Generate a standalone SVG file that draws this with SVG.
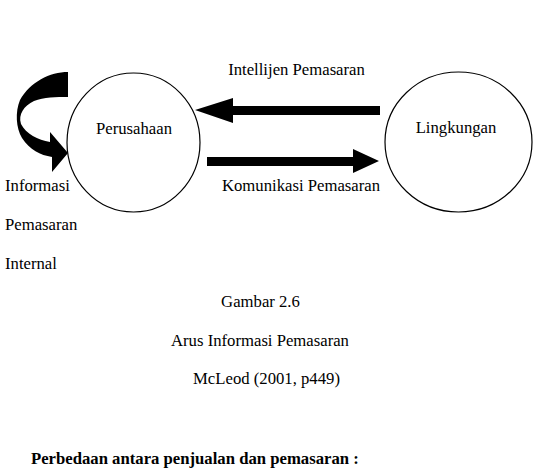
<svg xmlns="http://www.w3.org/2000/svg" width="533" height="468" viewBox="0 0 533 468">
<style>
.t{font-family:"Liberation Serif","Times New Roman",serif;font-size:16.7px;fill:#000}
.b{font-weight:bold}
.node{fill:#fff;stroke:#000;stroke-width:1.2}
.arr{fill:#000;stroke:none}
</style>
<rect width="533" height="468" fill="#fff"/>
<g id="connectors">
<path class="arr" d="M68 72 C50 72 30 82 20 100 C15 112 16 128 22 138 C30 150 40 155 52 157 L52 172 L68 153 L50 132 L50 142 C38 140 26 134 21 124 C18 114 24 106 34 101 C44 97 56 97 68 97 Z"/>
<polygon class="arr" points="380,106 233,106 233,98 195,110 233,123 233,115 380,115"/>
<polygon class="arr" points="207,157 353,157 353,149 379,161 353,173 353,166 207,166"/>
</g>
<g id="perusahaan">
<ellipse class="node" cx="133.5" cy="142.5" rx="66.5" ry="69.5"/>
<text class="t" x="134" y="134" text-anchor="middle">Perusahaan</text>
</g>
<g id="lingkungan">
<ellipse class="node" cx="458.5" cy="142" rx="73.5" ry="70"/>
<text class="t" x="456" y="133" text-anchor="middle">Lingkungan</text>
</g>
<g id="labels">
<text class="t" x="296.5" y="75" text-anchor="middle">Intellijen Pemasaran</text>
<text class="t" x="301" y="191" text-anchor="middle">Komunikasi Pemasaran</text>
<text class="t" x="5" y="191">Informasi</text>
<text class="t" x="5" y="230">Pemasaran</text>
<text class="t" x="5" y="269">Internal</text>
<text class="t" x="260.5" y="307" text-anchor="middle">Gambar 2.6</text>
<text class="t" x="260" y="346" text-anchor="middle">Arus Informasi Pemasaran</text>
<text class="t" x="266.5" y="384" text-anchor="middle">McLeod (2001, p449)</text>
<text class="t b" x="31" y="464">Perbedaan antara penjualan dan pemasaran :</text>
</g>
</svg>
